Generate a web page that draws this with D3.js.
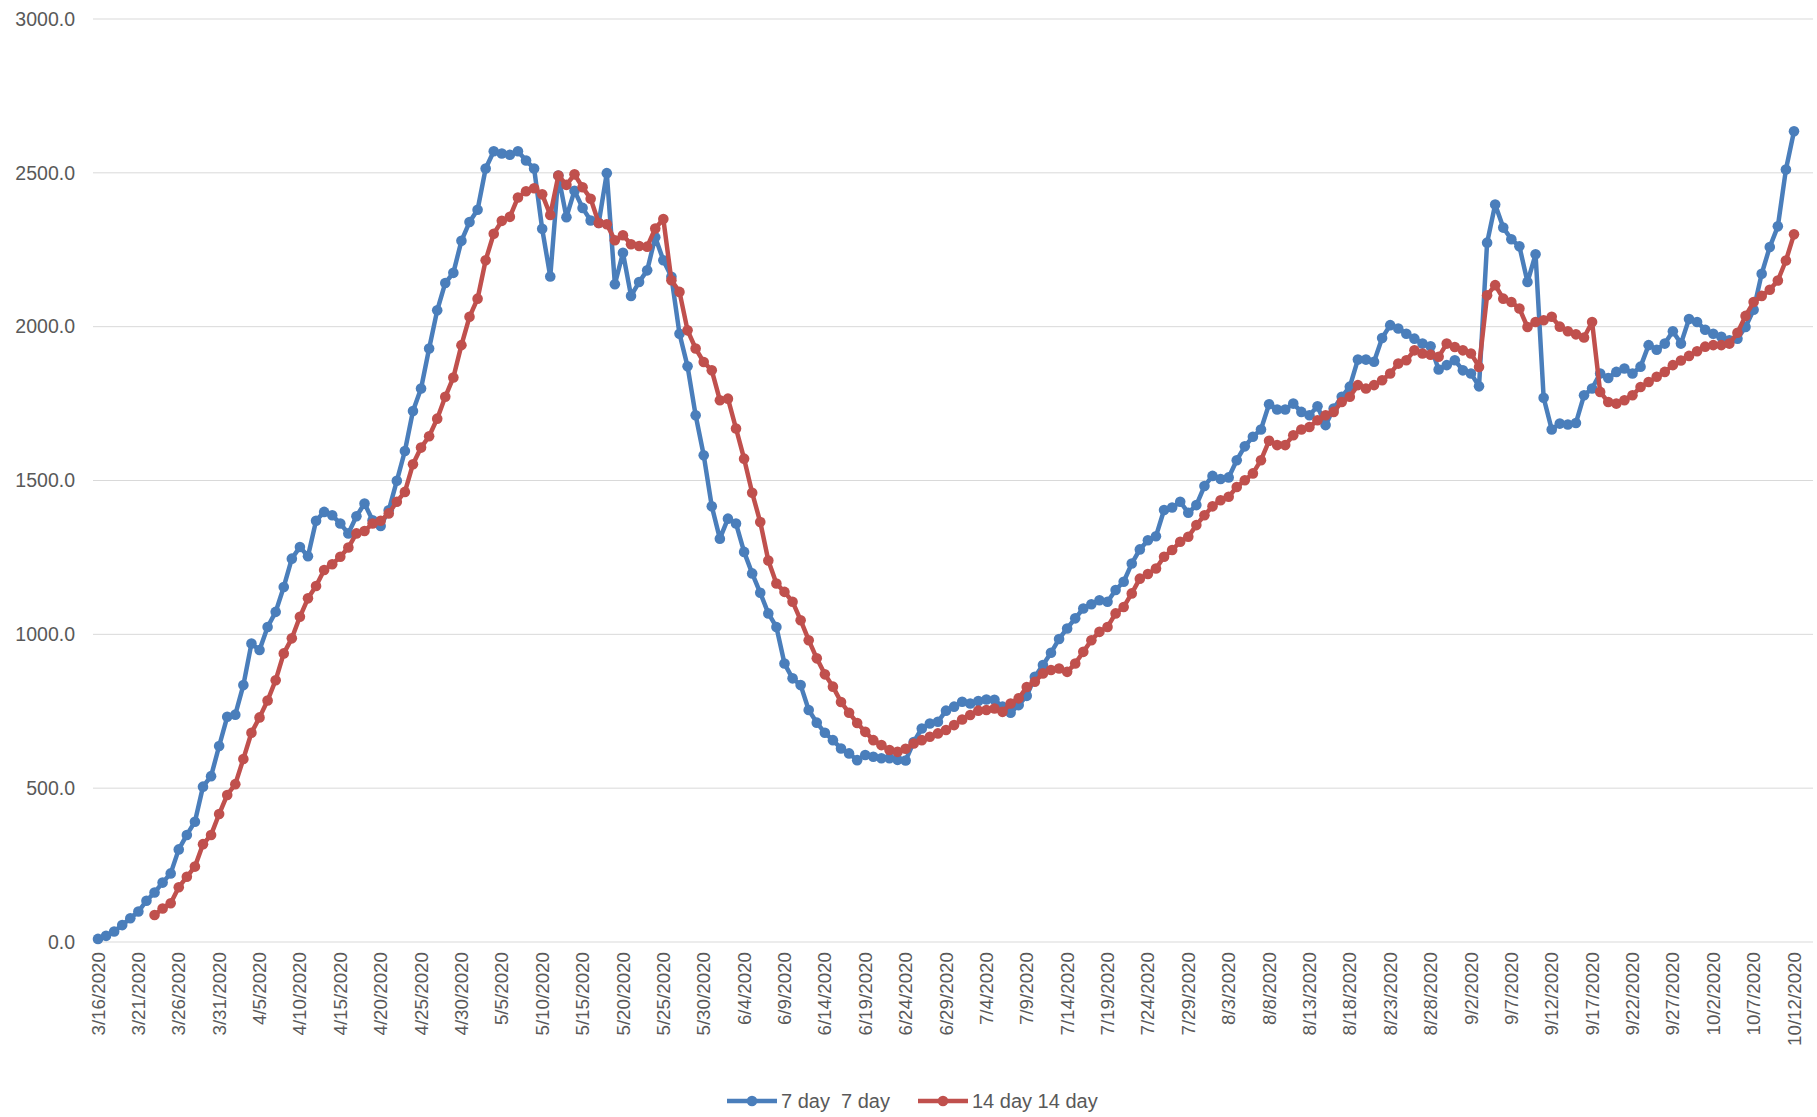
<!DOCTYPE html>
<html>
<head>
<meta charset="utf-8">
<script src="https://cdn.jsdelivr.net/npm/d3@7"></script>
<style>
  html, body { margin: 0; padding: 0; background: #fff; }
  svg { display: block; font-family: "Liberation Sans", Arial, sans-serif; }
</style>
</head>
<body>
<svg id="chart" width="1817" height="1117"></svg>
<script>
// Daily values, 3/16/2020 .. 10/12/2020
const firstDay = new Date(2020, 2, 16);
const lastDay = new Date(2020, 9, 12);

const sevenDay = [
    10, 20, 34, 55, 77, 99, 134, 161, 193, 223,
    301, 348, 391, 505, 539, 637, 732, 739, 835, 970,
    949, 1024, 1073, 1154, 1246, 1284, 1254, 1369, 1398, 1387,
    1360, 1328, 1384, 1425, 1371, 1352, 1403, 1499, 1596, 1726,
    1799, 1929, 2053, 2142, 2175, 2279, 2340, 2380, 2514, 2570,
    2563, 2559, 2570, 2540, 2514, 2318, 2163, 2491, 2356, 2442,
    2386, 2345, 2337, 2499, 2138, 2240, 2100, 2145, 2183, 2291,
    2216, 2162, 1977, 1871, 1712, 1582, 1416, 1311, 1376, 1360,
    1268, 1198, 1135, 1068, 1024, 905, 857, 835, 754, 713,
    680, 656, 629, 613, 591, 608, 602, 597, 597, 592,
    590, 650, 694, 710, 716, 752, 765, 781, 775, 783,
    788, 787, 765, 745, 770, 800, 862, 900, 940, 985,
    1019, 1052, 1084, 1098, 1111, 1106, 1144, 1171, 1230, 1276,
    1306, 1319, 1404, 1412, 1431, 1395, 1420, 1482, 1515, 1505,
    1510, 1566, 1611, 1642, 1666, 1748, 1731, 1731, 1750, 1723,
    1712, 1741, 1680, 1734, 1772, 1805, 1893, 1893, 1886, 1963,
    2005, 1994, 1977, 1961, 1945, 1936, 1861, 1875, 1891, 1858,
    1848, 1806, 2273, 2397, 2322, 2284, 2261, 2145, 2235, 1769,
    1666, 1685, 1682, 1687, 1777, 1799, 1848, 1833, 1853, 1864,
    1848, 1870, 1940, 1925, 1945, 1985, 1945, 2025, 2015, 1990,
    1977, 1967, 1956, 1961, 1999, 2055, 2172, 2259, 2326, 2511, 2635
];

// 14 day series begins one week later
const fourteenDayFirst = new Date(2020, 2, 23);
const fourteenDay = [
    88, 109, 126,
    178, 212, 245, 318, 348, 416, 478, 513, 595, 680,
    730, 785, 851, 938, 987, 1057, 1117, 1157, 1209, 1228,
    1252, 1282, 1328, 1336, 1360, 1369, 1393, 1431, 1463, 1553,
    1607, 1644, 1701, 1772, 1835, 1940, 2032, 2091, 2216, 2302,
    2344, 2357, 2420, 2440, 2450, 2430, 2363, 2491, 2461, 2495,
    2453, 2416, 2337, 2333, 2281, 2297, 2268, 2262, 2260, 2319,
    2350, 2151, 2113, 1988, 1929, 1885, 1858, 1761, 1766, 1669,
    1571, 1460, 1365, 1240, 1165, 1138, 1106, 1046, 981, 922,
    870, 830, 780, 745, 712, 683, 656, 640, 624, 618,
    628, 645, 656, 667, 678, 689, 705, 723, 738, 752,
    754, 759, 748, 775, 792, 829, 846, 873, 884, 889,
    878, 905, 943, 981, 1008, 1024, 1068, 1089, 1133, 1181,
    1196, 1214, 1252, 1274, 1301, 1317, 1355, 1387, 1416, 1436,
    1447, 1479, 1501, 1523, 1566, 1629, 1615, 1615, 1647, 1666,
    1674, 1696, 1712, 1723, 1755, 1772, 1810, 1799, 1810, 1826,
    1848, 1880, 1891, 1923, 1913, 1909, 1902, 1945, 1934, 1923,
    1913, 1869, 2102, 2135, 2091, 2080, 2059, 1999, 2015, 2021,
    2032, 2000, 1985, 1975, 1965, 2015, 1788, 1755, 1750, 1761,
    1777, 1804, 1820, 1837, 1853, 1875, 1890, 1905, 1920, 1935,
    1940, 1940, 1945, 1980, 2035, 2080, 2100, 2120, 2150, 2215, 2300
];

const yTicks = [0, 500, 1000, 1500, 2000, 2500, 3000];

const xTickLabels = [
    "3/16/2020", "3/21/2020", "3/26/2020", "3/31/2020", "4/5/2020", "4/10/2020",
    "4/15/2020", "4/20/2020", "4/25/2020", "4/30/2020", "5/5/2020", "5/10/2020",
    "5/15/2020", "5/20/2020", "5/25/2020", "5/30/2020", "6/4/2020", "6/9/2020",
    "6/14/2020", "6/19/2020", "6/24/2020", "6/29/2020", "7/4/2020", "7/9/2020",
    "7/14/2020", "7/19/2020", "7/24/2020", "7/29/2020", "8/3/2020", "8/8/2020",
    "8/13/2020", "8/18/2020", "8/23/2020", "8/28/2020", "9/2/2020", "9/7/2020",
    "9/12/2020", "9/17/2020", "9/22/2020", "9/27/2020", "10/2/2020", "10/7/2020",
    "10/12/2020"
];

const seriesNames = ["7 day  7 day", "14 day 14 day"];
const seriesColors = ["#4A7EBB", "#C0504D"];

// Build point lists from the arrays
const toPoints = (start, values) =>
    values.map((v, i) => ({ date: d3.timeDay.offset(start, i), value: v }));

const series = [
    toPoints(firstDay, sevenDay),
    toPoints(fourteenDayFirst, fourteenDay)
];

const svg = d3.select("#chart");

const x = d3.scaleTime()
    .domain([firstDay, lastDay])
    .range([98, 1794]);

const y = d3.scaleLinear()
    .domain([0, 3000])
    .range([942, 19]);

const textColor = "#595959";
const parseLabel = d3.timeParse("%m/%d/%Y");

// Horizontal gridlines
svg.append("g")
    .selectAll("line")
    .data(yTicks.filter(t => t > 0))
    .join("line")
    .attr("x1", 93)
    .attr("x2", 1813)
    .attr("y1", d => y(d))
    .attr("y2", d => y(d))
    .attr("stroke", "#d9d9d9")
    .attr("stroke-width", 1);

// Y axis labels
svg.append("g")
    .selectAll("text")
    .data(yTicks)
    .join("text")
    .attr("x", 75)
    .attr("y", d => y(d))
    .attr("dy", "0.35em")
    .attr("text-anchor", "end")
    .attr("fill", textColor)
    .attr("font-size", 19.5)
    .text(d3.format(".1f"));

// Category axis line
svg.append("line")
    .attr("x1", 93)
    .attr("x2", 1813)
    .attr("y1", y(0))
    .attr("y2", y(0))
    .attr("stroke", "#d9d9d9")
    .attr("stroke-width", 1);

// X axis labels, rotated
svg.append("g")
    .selectAll("text")
    .data(xTickLabels)
    .join("text")
    .attr("transform", d => `translate(${x(parseLabel(d))},${y(0) + 10}) rotate(-90)`)
    .attr("dy", "0.35em")
    .attr("text-anchor", "end")
    .attr("fill", textColor)
    .attr("font-size", 18.8)
    .text(d => d);

const line = d3.line()
    .x(d => x(d.date))
    .y(d => y(d.value));

series.forEach((pts, i) => {
    const g = svg.append("g");
    g.append("path")
        .datum(pts)
        .attr("fill", "none")
        .attr("stroke", seriesColors[i])
        .attr("stroke-width", 4.5)
        .attr("stroke-linejoin", "round")
        .attr("d", line);
    g.selectAll("circle")
        .data(pts)
        .join("circle")
        .attr("cx", d => x(d.date))
        .attr("cy", d => y(d.value))
        .attr("r", 5.3)
        .attr("fill", seriesColors[i]);
});

// Legend at the bottom
const legendX = [727, 918];
const legend = svg.append("g")
    .selectAll("g")
    .data(seriesNames)
    .join("g")
    .attr("transform", (d, i) => `translate(${legendX[i]},1101)`);

legend.append("line")
    .attr("x1", 0)
    .attr("x2", 50)
    .attr("stroke", (d, i) => seriesColors[i])
    .attr("stroke-width", 4.5);

legend.append("circle")
    .attr("cx", 25)
    .attr("r", 5.3)
    .attr("fill", (d, i) => seriesColors[i]);

legend.append("text")
    .attr("x", 54)
    .attr("dy", "0.35em")
    .attr("fill", textColor)
    .attr("font-size", 20)
    .style("white-space", "pre")
    .text(d => d);
</script>
</body>
</html>
